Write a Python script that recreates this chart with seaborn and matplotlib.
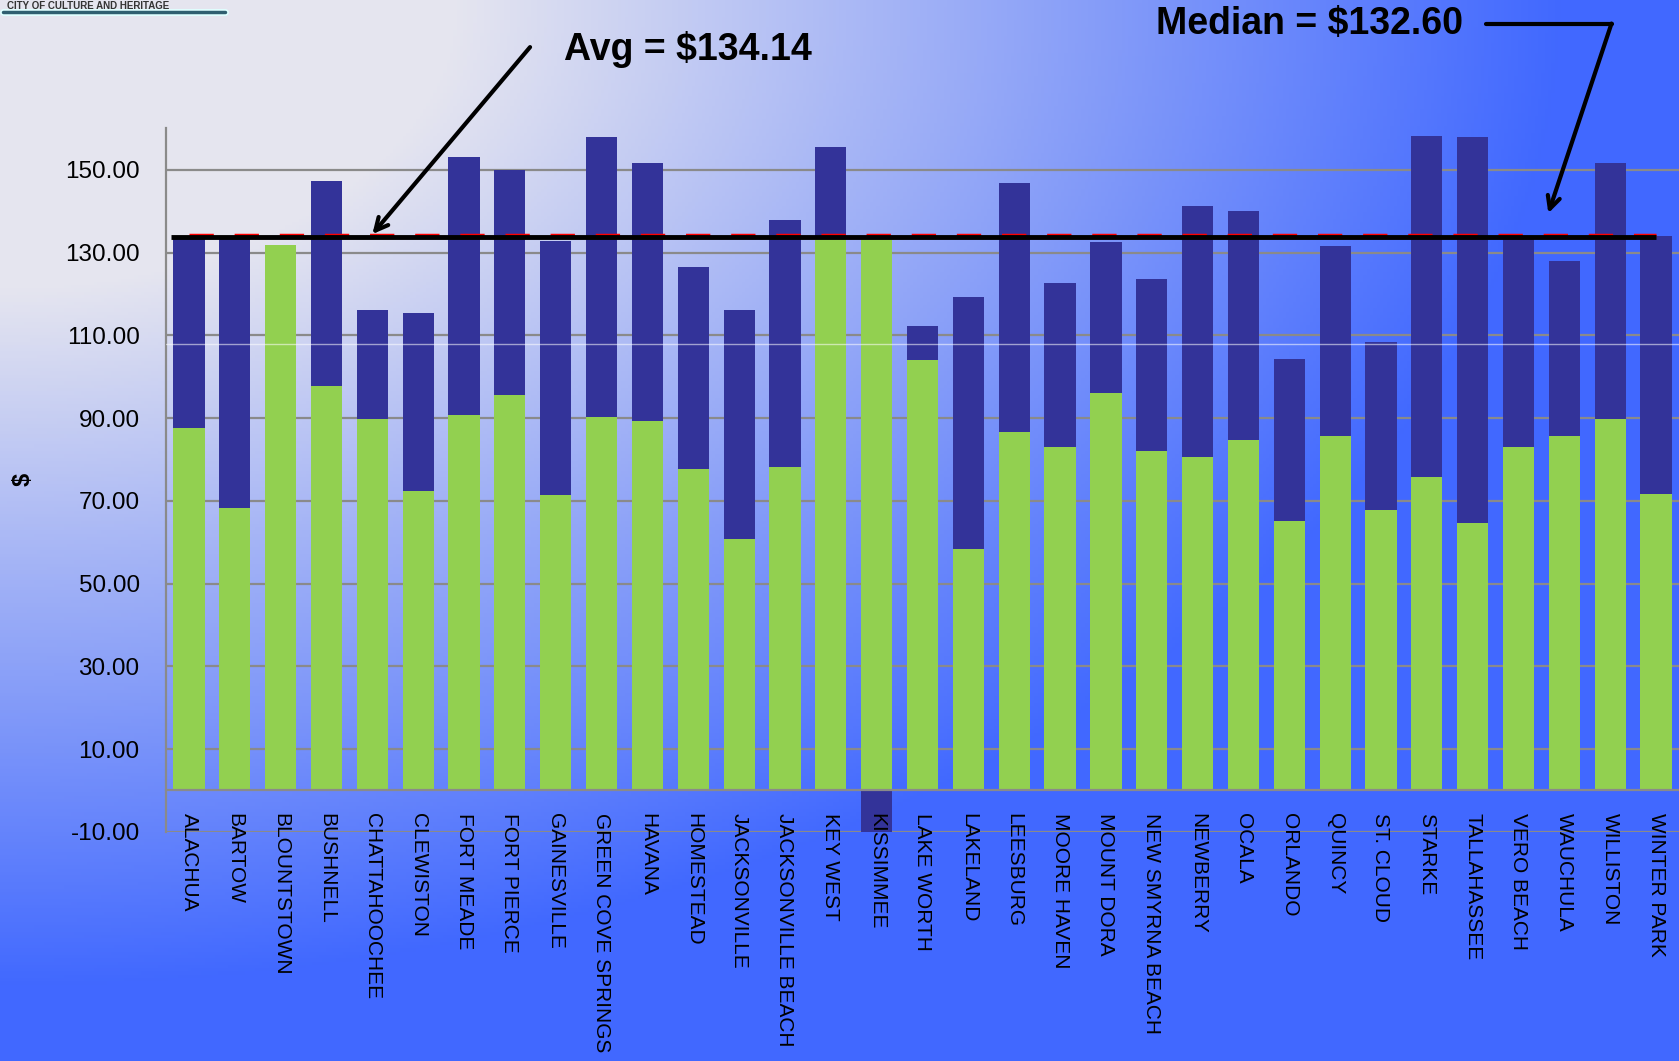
#!/usr/bin/env python3
"""Stacked bar chart of monthly bill per city, with average/median callouts."""

import matplotlib

matplotlib.use("Agg")
import matplotlib.pyplot as plt  # noqa: E402
import numpy as np  # noqa: E402
import pandas as pd  # noqa: E402
import seaborn as sns  # noqa: E402
from matplotlib.lines import Line2D  # noqa: E402
from matplotlib.ticker import FormatStrFormatter  # noqa: E402

cities = [
    "ALACHUA", "BARTOW", "BLOUNTSTOWN", "BUSHNELL", "CHATTAHOOCHEE",
    "CLEWISTON", "FORT MEADE", "FORT PIERCE", "GAINESVILLE",
    "GREEN COVE SPRINGS", "HAVANA", "HOMESTEAD", "JACKSONVILLE",
    "JACKSONVILLE BEACH", "KEY WEST", "KISSIMMEE", "LAKE WORTH", "LAKELAND",
    "LEESBURG", "MOORE HAVEN", "MOUNT DORA", "NEW SMYRNA BEACH", "NEWBERRY",
    "OCALA", "ORLANDO", "QUINCY", "ST. CLOUD", "STARKE", "TALLAHASSEE",
    "VERO BEACH", "WAUCHULA", "WILLISTON", "WINTER PARK",
]
# lower (green) segment of each bar
green_part = [
    87.7, 68.3, 131.8, 97.8, 89.8, 72.3, 90.8, 95.5, 71.4, 90.3, 89.3,
    77.6, 60.8, 78.1, 133.5, 134.0, 104.0, 58.4, 86.7, 83.0, 96.0, 82.0,
    80.7, 84.6, 65.2, 85.6, 67.8, 75.8, 64.7, 83.0, 85.6, 89.8, 71.7,
]
# upper (navy) segment of each bar; negative values hang below zero
navy_part = [
    46.4, 65.8, 0.0, 49.5, 26.4, 43.1, 62.2, 54.4, 61.4, 67.6, 62.4,
    49.0, 55.4, 59.8, 22.1, -10.0, 8.3, 60.9, 60.1, 39.7, 36.5, 41.7,
    60.6, 55.4, 39.1, 45.9, 40.6, 82.4, 93.2, 51.1, 42.3, 61.9, 62.4,
]
y_ticks = [-10, 10, 30, 50, 70, 90, 110, 130, 150]
avg_value = 134.14
median_value = 132.60

GREEN = "#92d050"
NAVY = "#333399"
GRID = "#8a8a8a"

sns.set_style("white")
plt.rcParams["font.family"] = ["Liberation Sans", "DejaVu Sans"]
plt.rcParams.update({"text.color": "black", "xtick.color": "black",
                     "ytick.color": "black"})

df = pd.DataFrame({"city": cities, "green": green_part, "navy": navy_part})
df["navy_top"] = df["green"] + df["navy"].clip(lower=0)
df["navy_neg"] = df["navy"].clip(upper=0)

fig = plt.figure(figsize=(16.79, 10.61), dpi=100)

# radial gradient backdrop: pale lavender top-left -> bright blue
bg = fig.add_axes([0, 0, 1, 1], zorder=0)
xx, yy = np.meshgrid(np.linspace(0, 1, 500), np.linspace(0, 1, 320))
t = np.clip((np.hypot(xx, yy) - 0.27) / 0.66, 0, 1)
light = np.array([0.90, 0.90, 0.94])
blue = np.array([0.255, 0.41, 1.0])
bg.imshow(light + (blue - light) * t[..., None], aspect="auto")
bg.set_axis_off()

ax = fig.add_axes([0.0989, 0.216, 0.9011, 0.663], zorder=1)
ax.patch.set_alpha(0)

for col, colour in (("navy_top", NAVY), ("navy_neg", NAVY), ("green", GREEN)):
    sns.barplot(
        data=df, x="city", y=col, order=cities, color=colour, width=0.68,
        saturation=1, errorbar=None, linewidth=0, edgecolor="none", ax=ax,
    )

n = len(cities)
ax.set_xlim(-0.5, n - 0.5)
ax.set_ylim(-10, 160)
ax.set_yticks(y_ticks)
ax.yaxis.set_major_formatter(FormatStrFormatter("%.2f"))
# gridlines drawn by hand so they sit under the bars while tick labels
# (e.g. KISSIMMEE over its negative bar) stay on top
ax.set_axisbelow(False)
ax.grid(False)
for yv in y_ticks:
    ax.axhline(yv, color=GRID, lw=1.6, zorder=0.5)
ax.set_xlabel("")
ax.set_ylabel("")

for side in ("top", "right"):
    ax.spines[side].set_visible(False)
ax.spines["bottom"].set_position(("data", 0))
for side in ("bottom", "left"):
    ax.spines[side].set_color(GRID)
    ax.spines[side].set_linewidth(1.6)
ax.tick_params(axis="x", length=0, pad=16, labelsize=15, labelrotation=270)
ax.tick_params(axis="y", length=0, pad=19, labelsize=17.5)

# faint light streak across the bars
ax.axhline(108, color="white", alpha=0.55, lw=1, zorder=3)

# average markers: red dashed series plus hand-drawn black rule
ax.plot(range(n), [avg_value] * n, color="red", lw=2.5,
        ls=(0, (7, 6)), zorder=4)
ax.plot([-0.4, n - 1], [avg_value - 0.4] * 2, color="black", lw=3.5,
        zorder=5, solid_capstyle="butt")

fig.text(0.410, 0.9536, f"Avg = ${avg_value:.2f}", ha="center", va="center",
         fontsize=27, fontweight="bold")
ax.annotate(
    "", xy=(4, avg_value + 0.3), xycoords="data",
    xytext=(0.3157, 0.9556), textcoords="figure fraction",
    arrowprops=dict(arrowstyle="->, head_length=0.9, head_width=0.45",
                    lw=3, color="black", shrinkA=0, shrinkB=0),
    annotation_clip=False,
)

fig.text(0.7797, 0.9778, f"Median = ${median_value:.2f}", ha="center",
         va="center", fontsize=27, fontweight="bold")
fig.add_artist(Line2D([0.8852, 0.9598], [0.9778, 0.9778], color="black",
                      lw=3, transform=fig.transFigure))
ax.annotate(
    "", xy=(29.65, 139.5), xycoords="data",
    xytext=(0.9598, 0.9778), textcoords="figure fraction",
    arrowprops=dict(arrowstyle="->, head_length=0.9, head_width=0.45",
                    lw=3, color="black", shrinkA=0, shrinkB=0),
    annotation_clip=False,
)

fig.text(0.014, 0.548, "$", rotation=90, ha="center", va="center",
         fontsize=17, fontweight="bold")

# small logo strip in the top-left corner
fig.text(0.004, 1.0 - 1 / 1061, "CITY OF CULTURE AND HERITAGE", fontsize=7,
         fontweight="bold", color="#333333", va="top", ha="left")
fig.add_artist(Line2D([3 / 1679, 225 / 1679], [1 - 12 / 1061] * 2,
                      color="#e0ffff", lw=5, transform=fig.transFigure))
fig.add_artist(Line2D([3 / 1679, 225 / 1679], [1 - 12 / 1061] * 2,
                      color="#2f5f70", lw=2.5, transform=fig.transFigure))

fig.savefig("out.png", dpi=100)
